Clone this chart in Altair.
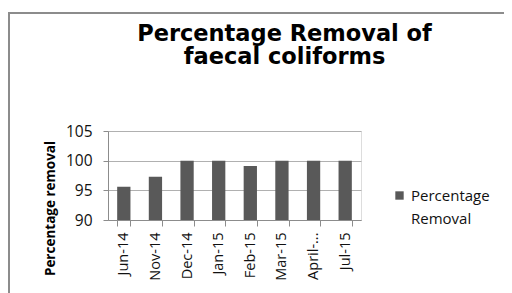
import altair as alt
import pandas as pd

months = ["Jun-14", "Nov-14", "Dec-14", "Jan-15", "Feb-15", "Mar-15", "April-...", "Jul-15"]
removal = [95.6, 97.3, 100.0, 100.0, 99.1, 100.0, 100.0, 100.0]
series = "Percentage Removal"
y_ticks = [90, 95, 100, 105]

df = pd.DataFrame({"month": months, "value": removal, "series": [series] * len(months)})

FONT = "Open Sans"
GRAY = "#8c8c8c"

frame = alt.Chart(pd.DataFrame({"a": [0]})).mark_rect(
    filled=False, stroke=GRAY, strokeWidth=2
).encode(
    x=alt.value(-99), y=alt.value(-118), x2=alt.value(500), y2=alt.value(300)
)

bars = alt.Chart(df).mark_bar(clip=True).encode(
    x=alt.X("month:N", sort=months,
            scale=alt.Scale(paddingInner=0.58, paddingOuter=0.29),
            axis=alt.Axis(title=None, labelAngle=-90, labelFont=FONT, labelFontSize=14.5,
                          labelColor="#111111", labelPadding=6, tickBand="extent",
                          tickSize=6, tickColor=GRAY, domainColor=GRAY, grid=False)),
    y=alt.Y("value:Q", scale=alt.Scale(domain=[90, 105], zero=False, nice=False),
            axis=alt.Axis(values=y_ticks, title="Percentage removal", titleFont=FONT,
                          titleFontSize=13.5, titleFontWeight="bold", titleColor="#000000",
                          titleAngle=270, titleX=-58, titleY=77, titleAlign="center",
                          titleBaseline="middle",
                          labelFont=FONT, labelFontSize=15.5, labelColor="#111111",
                          labelPadding=11, tickSize=5, tickColor=GRAY, domainColor=GRAY,
                          gridColor="#b0b0b0")),
    color=alt.Color("series:N", scale=alt.Scale(range=["#595959"]),
                    legend=alt.Legend(title=None, orient="none", legendX=284, legendY=57,
                                      symbolType="square", symbolSize=70,
                                      labelFont=FONT, labelFontSize=15, labelColor="#111111",
                                      labelExpr="split(datum.label, ' ')")),
)

chart = alt.layer(frame, bars).properties(
    width=253, height=89,
    autosize=alt.AutoSizeParams(type="none"),
    padding={"left": 100, "top": 123, "right": 143, "bottom": 73},
    title=alt.Title(["Percentage Removal of", "faecal coliforms"], font="DejaVu Sans",
                    fontSize=22.5, fontWeight="bold", color="#000000", anchor="middle", dx=50,
                    lineHeight=23, offset=-56),
).configure_view(stroke=None).configure(style={"guide-label": {"lineHeight": 23}})

chart.save("out.html", embed_options={"renderer": "svg", "actions": False})
